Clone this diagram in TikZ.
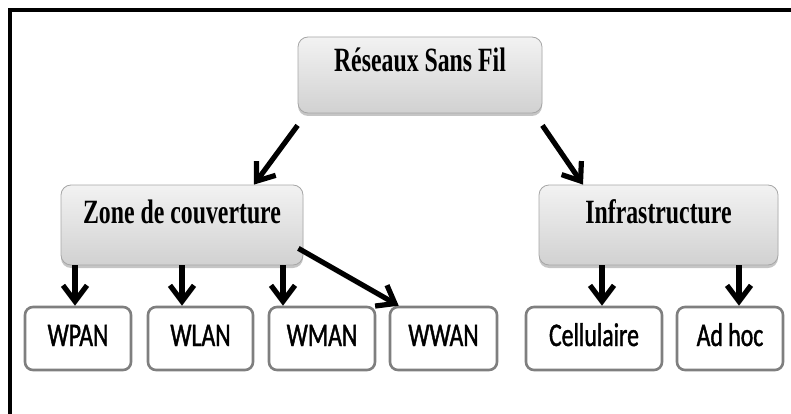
\documentclass[tikz,border=0pt]{standalone}
\usepackage{fontspec}
\usetikzlibrary{arrows.meta,shadows}
\newfontfamily\headfont[FakeStretch=0.70]{Liberation Serif}
\newfontfamily\leaffont[FakeStretch=0.72,FakeBold=1.2]{Carlito}
\definecolor{boxedge}{HTML}{A6A6A6}
\definecolor{leafedge}{HTML}{7F7F7F}
\begin{document}
\begin{tikzpicture}[x=1pt,y=-1pt,
  headbox/.style={draw=boxedge, line width=0.8pt, rounded corners=10pt,
    top color=black!5, bottom color=black!18,
    drop shadow={shadow xshift=0pt, shadow yshift=-3pt, fill=black!45, opacity=0.5},
    font=\headfont\bfseries\fontsize{34}{40}\selectfont,
    inner sep=0pt},
  leafbox/.style={draw=leafedge, line width=2.6pt, rounded corners=8pt, fill=white,
    minimum width=#1, minimum height=63pt, inner sep=0pt,
    text height=15pt, text depth=0pt,
    font=\leaffont\fontsize{33}{38}\selectfont},
  arr/.style={line width=5.2pt, -{Straight Barb[length=16pt,width=24pt]}}]
\useasboundingbox (0,0) rectangle (791,414);
% frame: top and left rules only
\draw[line width=4pt] (10,414) -- (10,10) -- (791,10);
% upper level
\node[headbox, minimum width=244pt, text height=35pt, text depth=41pt] (res) at (420,75) {Réseaux Sans Fil};
\node[headbox, minimum width=242pt, text height=38pt, text depth=42pt] (zone) at (182,225) {Zone de couverture};
\node[headbox, minimum width=239pt, text height=38pt, text depth=42pt] (infra) at (658.5,225) {Infrastructure};
% leaves
\node[leafbox=106pt] (wpan) at (78,338.5) {WPAN};
\node[leafbox=105pt] (wlan) at (200.5,338.5) {WLAN};
\node[leafbox=106pt] (wman) at (322,338.5) {WMAN};
\node[leafbox=107pt] (wwan) at (443.5,338.5) {WWAN};
\node[leafbox=136pt] (cell) at (594,338.5) {Cellulaire};
\node[leafbox=106pt] (adhoc) at (730,338.5) {Ad hoc};
% connectors
\draw[arr] ([yshift=-12pt]res.south west) -- ([xshift=72pt]zone.north);
\draw[arr] ([yshift=-12pt]res.south east) -- ([xshift=-75.5pt]infra.north);
\draw[arr] ([shift={(-5pt,17pt)}]zone.south east) -- ([xshift=10pt]wwan.north west);
\coordinate (t1) at ([xshift=-3pt]wpan.north);
\coordinate (t2) at ([xshift=-18.5pt]wlan.north);
\coordinate (t3) at ([xshift=-39pt]wman.north);
\coordinate (t4) at ([xshift=8pt]cell.north);
\coordinate (t5) at ([xshift=9pt]adhoc.north);
\draw[arr] (t1 |- zone.south) -- (t1);
\draw[arr] (t2 |- zone.south) -- (t2);
\draw[arr] (t3 |- zone.south) -- (t3);
\draw[arr] (t4 |- infra.south) -- (t4);
\draw[arr] (t5 |- infra.south) -- (t5);
\end{tikzpicture}
\end{document}
